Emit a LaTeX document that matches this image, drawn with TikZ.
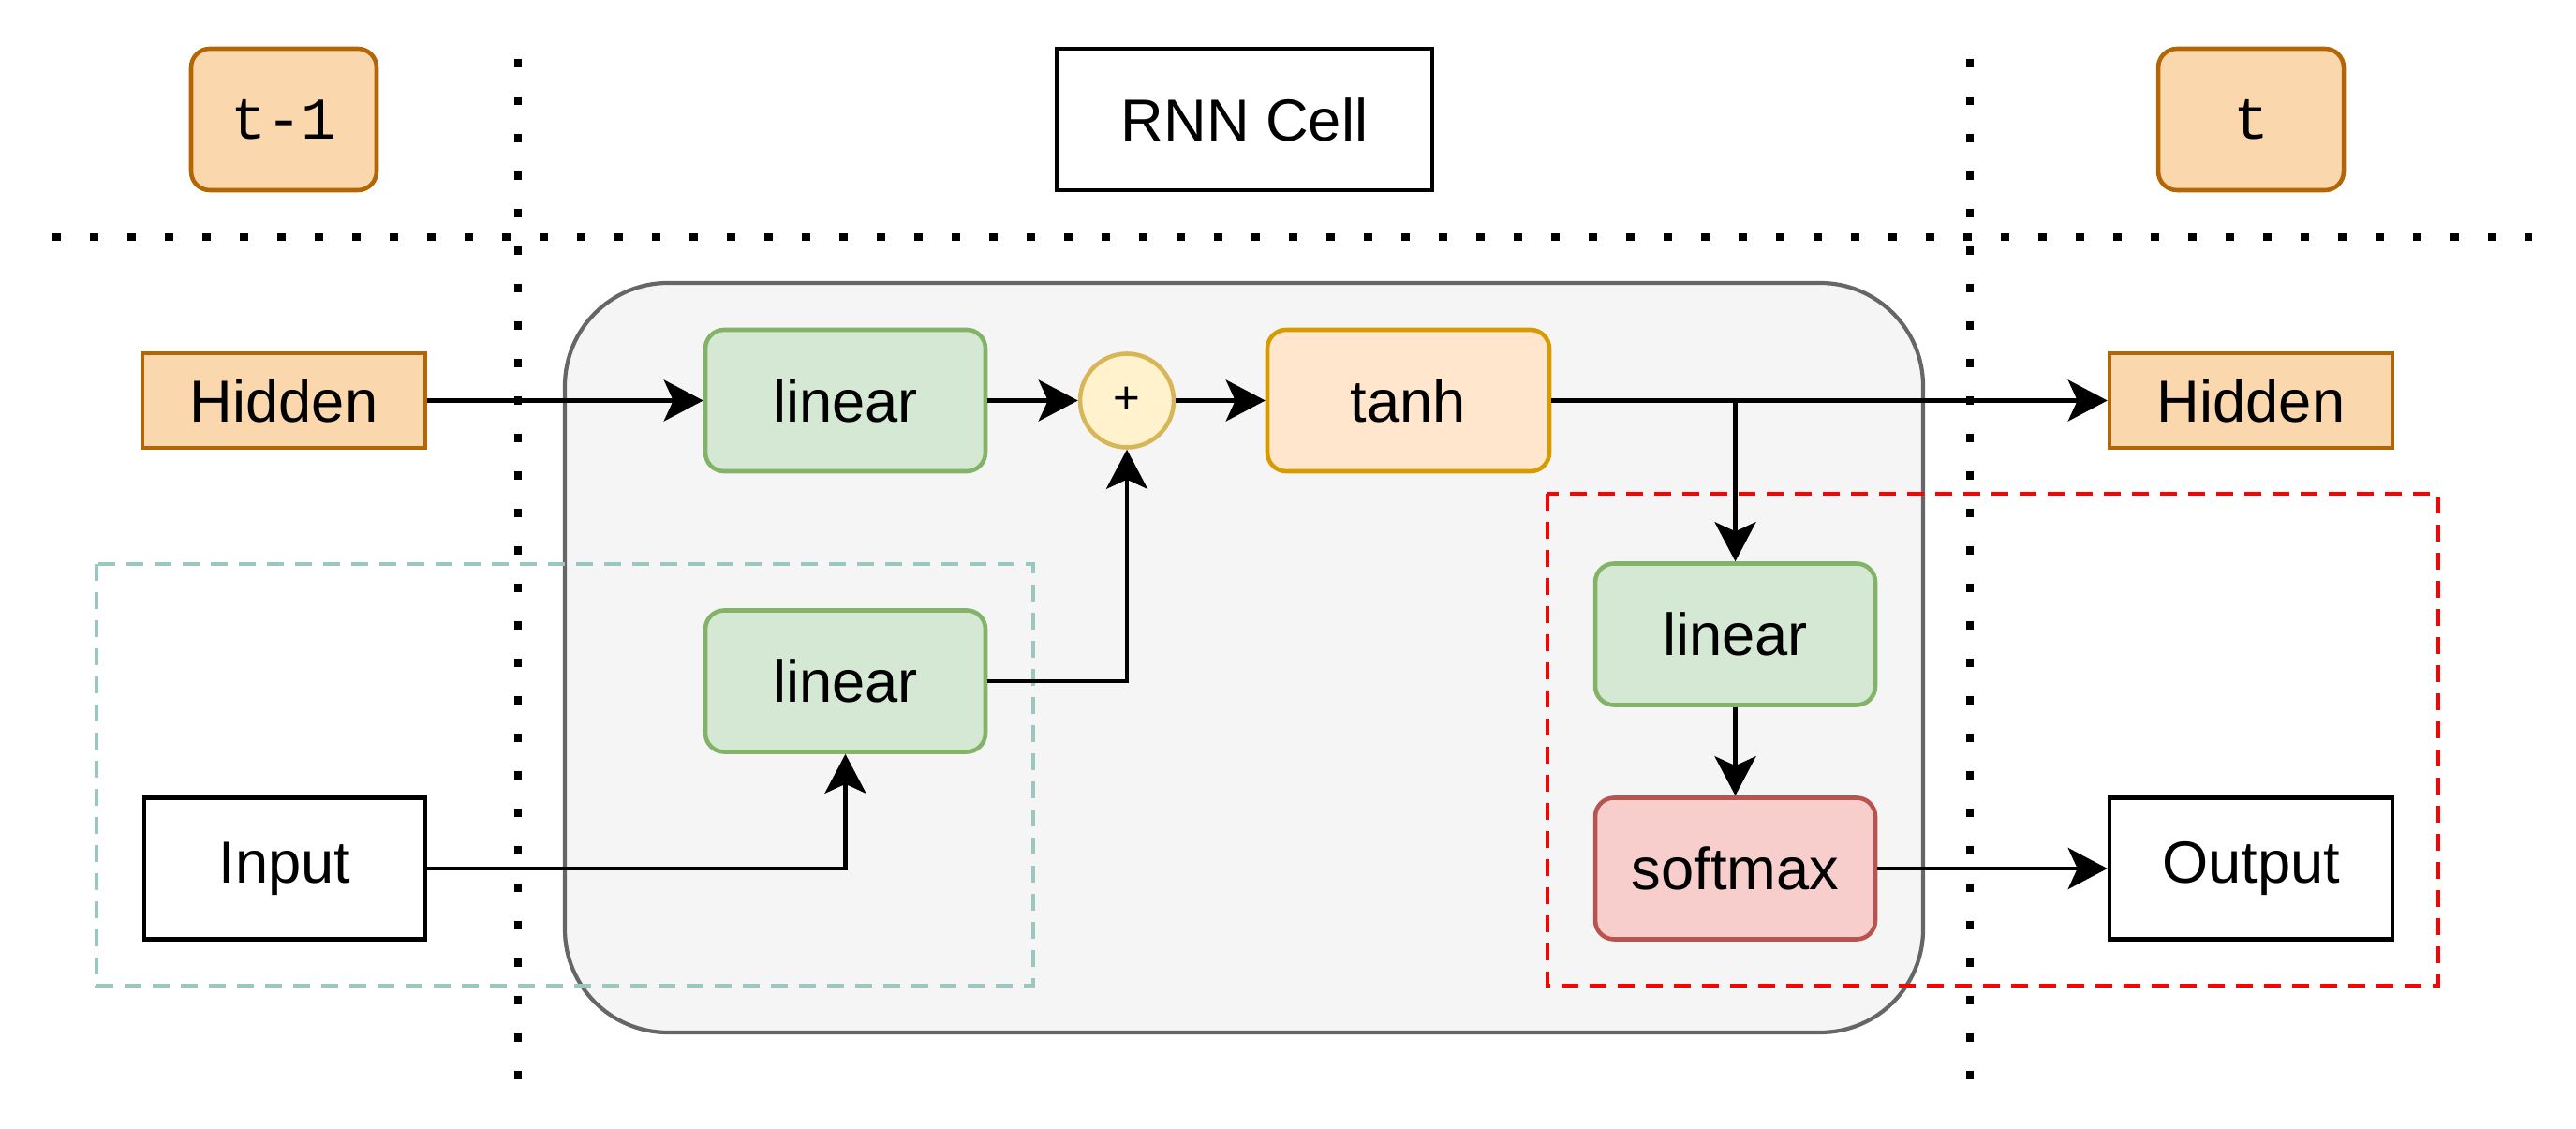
\documentclass[tikz,border=0pt]{standalone}
\usepackage{fontspec}
\setmainfont{Liberation Sans}
\newfontfamily\stepfont{Liberation Mono}
\usepackage{xcolor}
\usepackage{tikz}
\usetikzlibrary{arrows.meta}
\definecolor{hidfill}{HTML}{FAD7AC}
\definecolor{hiddraw}{HTML}{B46504}
\definecolor{linfill}{HTML}{D5E8D4}
\definecolor{lindraw}{HTML}{82B366}
\definecolor{tanhfill}{HTML}{FFE6CC}
\definecolor{tanhdraw}{HTML}{D79B00}
\definecolor{plusfill}{HTML}{FFF2CC}
\definecolor{plusdraw}{HTML}{D6B656}
\definecolor{smfill}{HTML}{F8CECC}
\definecolor{smdraw}{HTML}{B85450}
\definecolor{cellfill}{HTML}{F5F5F5}
\definecolor{celldraw}{HTML}{666666}
\definecolor{tealdash}{HTML}{9AC7BF}
\tikzstyle{centered} = [align=center, text centered, font=\fontsize{18}{22}\selectfont]
\tikzstyle{plainbox} = [centered, draw=black, fill=white, line width=1.3pt, minimum width=3.01cm, minimum height=1.51cm]
\tikzstyle{hidbox} = [centered, draw=hiddraw, fill=hidfill, line width=1.3pt, minimum width=3.02cm, minimum height=1.01cm]
\tikzstyle{stepbox} = [centered, font=\stepfont\fontsize{18}{22}\selectfont, draw=hiddraw, fill=hidfill, line width=1.3pt, rounded corners=0.2cm, minimum width=1.98cm, minimum height=1.51cm]
\tikzstyle{linbox} = [centered, draw=lindraw, fill=linfill, line width=1.3pt, rounded corners=0.2cm, minimum width=2.99cm, minimum height=1.51cm]
\tikzstyle{conn} = [line width=1.3pt, -{Stealth[length=4.2mm, width=4.4mm, inset=1mm]}]
\tikzstyle{sep} = [line width=2.3pt, dash pattern=on 0.09cm off 0.31cm]

\begin{document}
\begin{tikzpicture}
            [x=0.1cm, y=-0.1cm]
              \useasboundingbox (0,0) rectangle (275,120.5);
              % cell background and the two groups
              \draw [fill=cellfill, draw=celldraw, line width=1.2pt, rounded corners=1.1cm] (60.3,30.2) rectangle (205.3,110.2);
              \draw [tealdash, line width=1.2pt, dash pattern=on 0.18cm off 0.12cm] (10.3,60.2) rectangle (110.3,105.2);
              \draw [red, line width=1.2pt, dash pattern=on 0.18cm off 0.12cm] (165.2,52.7) rectangle (260.3,105.2);
              % separators
              \draw [sep] (55.3,6.3) -- (55.3,115.2);
              \draw [sep] (210.3,6.3) -- (210.3,115.2);
              \draw [sep] (5.6,25.3) -- (270.3,25.3);

              \node [stepbox](tm1) at (30.3, 12.75) {t-1};
              \node [plainbox, minimum width=4.01cm](cell) at (132.85, 12.75) {RNN Cell};
              \node [stepbox](tt) at (240.3, 12.75) {t};

              \node [hidbox](hidA) at (30.3, 42.75) {Hidden};
              \node [linbox](lin1) at (90.25, 42.75) {linear};
              \node [centered, circle, draw=plusdraw, fill=plusfill, line width=1.3pt, minimum size=1cm, inner sep=0pt, font=\fontsize{14}{16}\selectfont](plus) at (120.3, 42.75) {+};
              \node [linbox, draw=tanhdraw, fill=tanhfill, minimum width=3.01cm](tanh) at (150.35, 42.75) {tanh};
              \node [hidbox](hidB) at (240.3, 42.75) {Hidden};

              \node [linbox](lin2) at (90.25, 72.7) {linear};
              \node [linbox](lin3) at (185.25, 67.7) {linear};
              \node [plainbox, minimum width=3cm](inp) at (30.4, 92.7) {Input};
              \node [linbox, draw=smdraw, fill=smfill](soft) at (185.25, 92.7) {softmax};
              \node [plainbox, minimum width=3.02cm](out) at (240.3, 92.7) {Output};

              \draw [conn] (hidA) -- (lin1);
              \draw [conn] (lin1) -- (plus);
              \draw [conn] (plus) -- (tanh);
              \draw [conn] (tanh) -- (hidB);
              \draw [conn] (tanh.east -| lin3) -- (lin3);
              \draw [conn] (lin3) -- (soft);
              \draw [conn] (soft) -- (out);
              \draw [conn] (inp) -| (lin2);
              \draw [conn] (lin2) -| (plus);
            \end{tikzpicture}
\end{document}
